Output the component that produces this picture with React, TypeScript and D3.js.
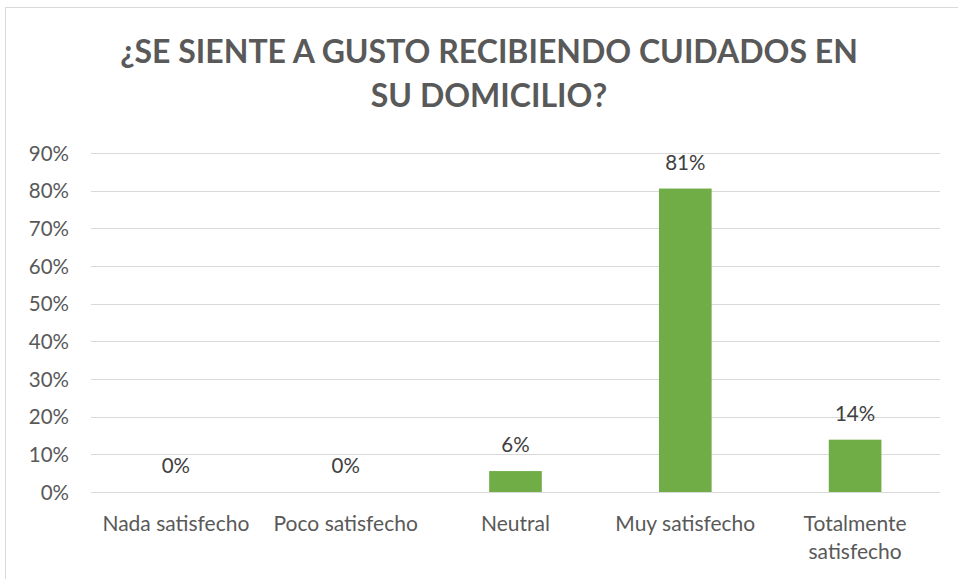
import React from "react";
import * as d3 from "d3";

const categories = ["Nada satisfecho", "Poco satisfecho", "Neutral", "Muy satisfecho", "Totalmente satisfecho"];
const categoryLines = [["Nada satisfecho"], ["Poco satisfecho"], ["Neutral"], ["Muy satisfecho"], ["Totalmente", "satisfecho"]];
const values = [0, 0, 0.0556, 0.8056, 0.1389];
const valueLabels = ["0%", "0%", "6%", "81%", "14%"];
const yTicks = [0, 0.1, 0.2, 0.3, 0.4, 0.5, 0.6, 0.7, 0.8, 0.9];
const titleLines = ["¿SE SIENTE A GUSTO RECIBIENDO CUIDADOS EN", "SU DOMICILIO?"];

const W = 958, H = 579;
const FONT = "Lato, 'Open Sans', sans-serif";

export default function App() {
  const x = d3.scaleBand<string>().domain(categories).range([91, 940]).paddingInner(0.69).paddingOuter(0.345);
  const xc = d3.scaleBand<string>().domain(categories).range([91, 940]);
  const y = d3.scaleLinear().domain([0, 0.9]).range([492, 153]);
  const fmt = d3.format(".0%");
  return (
    <div style={{ position: "absolute", left: 0, top: 0, width: W, height: H, background: "#fff" }}>
      <svg width={W} height={H} style={{ display: "block" }}>
        <rect x={0} y={0} width={W} height={H} fill="#fff" />
        <line x1={5.5} x2={5.5} y1={7} y2={H} stroke="#d9d9d9" />
        <line x1={5} x2={W} y1={7.5} y2={7.5} stroke="#d9d9d9" />
        {titleLines.map((t, i) => (
          <text key={i} x={489} y={63 + i * 44} textAnchor="middle" fontFamily={FONT} fontWeight={700}
            fontSize={32} fill="#595959">{t}</text>
        ))}
        {yTicks.map((t) => (
          <g key={t}>
            <line x1={91} x2={940} y1={Math.round(y(t)) + 0.5} y2={Math.round(y(t)) + 0.5} stroke="#d9d9d9" strokeWidth={1} />
            <text x={69} y={y(t) + 7.5} textAnchor="end" fontFamily={FONT} fontSize={20.5} fill="#595959">{fmt(t)}</text>
          </g>
        ))}
        {categories.map((c, i) => (
          <g key={c}>
            <rect x={x(c)} y={y(values[i])} width={x.bandwidth()} height={y(0) - y(values[i])} fill="#70ad47" />
            <text x={xc(c)! + xc.bandwidth() / 2} y={y(values[i]) - 19} textAnchor="middle" fontFamily={FONT}
              fontSize={20.5} fill="#404040">{valueLabels[i]}</text>
            {categoryLines[i].map((l, j) => (
              <text key={j} x={xc(c)! + xc.bandwidth() / 2} y={531 + j * 28} textAnchor="middle" fontFamily={FONT}
                fontSize={21} fill="#595959">{l}</text>
            ))}
          </g>
        ))}
      </svg>
    </div>
  );
}
